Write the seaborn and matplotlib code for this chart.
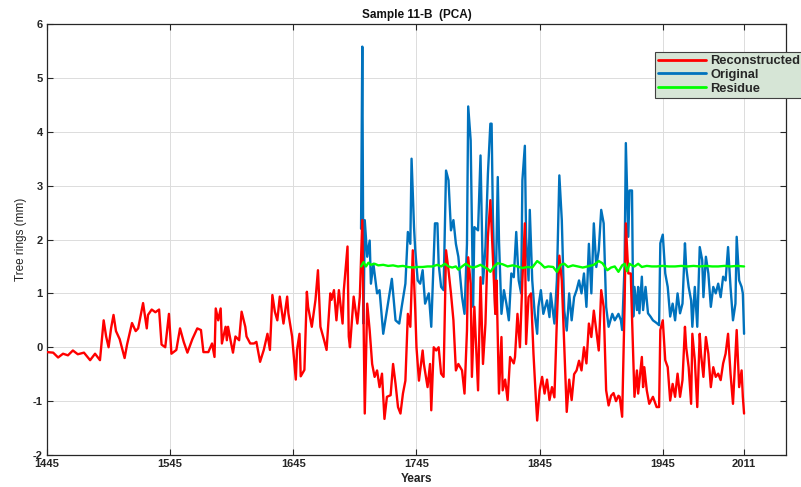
import matplotlib
matplotlib.use("Agg")
import matplotlib.pyplot as plt
import seaborn as sns
import pandas as pd

# ---------------- data ----------------
red_years = [1445, 1450, 1454, 1458, 1462, 1466, 1470, 1475, 1480, 1484, 1488, 1491, 1493, 1495, 1497,
             1499, 1501, 1504, 1508, 1510, 1514, 1517, 1519, 1523, 1526, 1527, 1530, 1533, 1536, 1538,
             1541, 1544, 1546, 1550, 1553, 1556, 1559, 1563, 1567, 1570, 1572, 1576, 1579, 1581, 1582,
             1584, 1586, 1587, 1590, 1591, 1592, 1594, 1596, 1598, 1601, 1603, 1606, 1607, 1610, 1613,
             1615, 1618, 1621, 1624, 1626, 1628, 1630, 1632, 1634, 1637, 1640, 1641, 1644, 1647, 1648,
             1650, 1651, 1654, 1656, 1657, 1660, 1663, 1665, 1667, 1670, 1672, 1675, 1676, 1678, 1680,
             1682, 1685, 1686, 1689, 1690, 1691, 1694, 1697, 1699, 1701, 1703, 1705, 1707, 1709, 1711,
             1713, 1715, 1717, 1719, 1721, 1724, 1726, 1728, 1730, 1732, 1734, 1736, 1738, 1740, 1742,
             1744, 1745, 1747, 1750, 1751, 1754, 1756, 1757, 1759, 1761, 1763, 1765, 1767, 1769, 1771,
             1773, 1775, 1777, 1779, 1782, 1784, 1786, 1787, 1789, 1790, 1792, 1795, 1797, 1799, 1801,
             1803, 1805, 1807, 1809, 1810, 1812, 1814, 1815, 1817, 1819, 1821, 1824, 1825, 1827, 1829,
             1831, 1833, 1834, 1836, 1838, 1840, 1842, 1843, 1845, 1847, 1849, 1851, 1853, 1855, 1857,
             1859, 1861, 1863, 1865, 1867, 1869, 1871, 1873, 1875, 1877, 1879, 1881, 1883, 1885, 1887,
             1889, 1891, 1893, 1895, 1897, 1899, 1901, 1903, 1905, 1907, 1909, 1910, 1912, 1914, 1915,
             1917, 1919, 1920, 1922, 1924, 1925, 1928, 1929, 1930, 1932, 1934, 1937, 1940, 1942, 1943,
             1945, 1947, 1949, 1951, 1953, 1955, 1957, 1959, 1961, 1963, 1964, 1966, 1968, 1969, 1971,
             1973, 1975, 1976, 1978, 1980, 1982, 1984, 1986, 1988, 1990, 1992, 1994, 1996, 1998, 2000,
             2002, 2004, 2005, 2007, 2009, 2010, 2011]
red_vals = [-0.09, -0.10, -0.19, -0.12, -0.15, -0.06, -0.13, -0.10, -0.24, -0.12, -0.24, 0.50, 0.20, 0.00, 0.35,
            0.60, 0.30, 0.15, -0.20, 0.05, 0.45, 0.30, 0.35, 0.82, 0.35, 0.60, 0.70, 0.65, 0.70, 0.05,
            0.00, 0.62, -0.12, -0.05, 0.35, 0.10, -0.10, 0.15, 0.35, 0.32, -0.09, -0.09, 0.07, -0.18, 0.72,
            0.50, 0.72, 0.07, 0.38, 0.13, 0.38, 0.13, -0.10, 0.20, 0.13, 0.66, 0.38, 0.20, 0.07, 0.07,
            0.10, -0.27, -0.05, 0.25, -0.05, 0.97, 0.66, 0.50, 0.94, 0.44, 0.94, 0.63, 0.20, -0.60, -0.05,
            0.25, -0.54, -0.42, 1.03, 0.75, 0.38, 0.88, 1.43, 0.38, 0.13, -0.05, 1.00, 0.88, 1.06, 0.50,
            1.06, 0.44, 1.06, 1.87, 0.20, 0.00, 0.94, 0.44, 0.94, 2.36, -1.23, 0.81, 0.31, -0.31, -0.55,
            -0.43, -0.74, -0.49, -1.33, -0.92, -0.89, -0.31, -0.68, -1.11, -1.23, -0.86, -0.62, 0.62, 0.38, 1.80,
            0.69, 0.00, -0.62, -0.06, -0.31, -0.74, -0.31, -1.17, 0.00, -0.06, 0.00, -0.49, -0.55, 1.80, 1.43,
            1.00, 0.50, -0.43, -0.31, -0.43, -0.86, 0.31, 1.67, 1.18, -0.55, 0.75, -0.80, 1.30, -0.31, 0.44,
            2.05, 2.73, 1.70, 0.62, 1.24, -0.86, 0.19, -0.80, -0.60, -0.98, -0.18, -0.30, -0.18, 0.62, 0.00,
            1.24, 2.30, 0.06, 0.93, 1.00, -0.12, -0.98, -1.36, -0.80, -0.55, -0.86, -0.60, -0.98, -0.74, -0.93,
            0.50, 1.70, 1.24, 0.00, -1.20, -0.60, -0.98, -0.50, -0.43, -0.25, -0.43, 0.00, -0.30, 0.44, 0.19,
            0.68, 0.31, -0.06, 1.06, 0.75, -0.80, -1.08, -0.90, -0.85, -1.00, -0.90, -0.92, -1.29, 0.81, 2.30,
            1.37, 1.37, 0.57, -0.92, -0.43, -0.86, -0.18, -0.74, -0.37, -0.80, -1.05, -0.92, -1.11, -1.11, 0.32,
            0.50, -0.24, -0.37, -0.99, -0.68, -0.92, -0.49, -0.92, -0.61, 0.38, 0.00, -0.37, -1.05, 0.25, -0.24,
            -1.11, 0.25, -0.12, -0.55, 0.19, -0.12, -0.74, -0.37, -0.55, -0.49, -0.61, -0.30, -0.12, 0.25, -0.49,
            -1.05, -0.12, 0.32, -0.74, -0.43, -0.92, -1.23]

blue_years = [1700, 1701, 1702, 1703, 1705, 1707, 1708, 1710, 1713, 1715, 1718, 1721, 1725, 1728, 1731,
              1733, 1736, 1738, 1740, 1741, 1743, 1744, 1746, 1748, 1750, 1752, 1755, 1757, 1760, 1762,
              1763, 1765, 1767, 1769, 1771, 1773, 1775, 1777, 1779, 1782, 1784, 1786, 1787, 1789, 1791,
              1792, 1795, 1797, 1799, 1801, 1803, 1805, 1806, 1807, 1809, 1811, 1812, 1814, 1816, 1818,
              1820, 1822, 1824, 1826, 1828, 1830, 1831, 1833, 1834, 1836, 1837, 1839, 1841, 1843, 1844,
              1846, 1848, 1851, 1853, 1854, 1857, 1859, 1861, 1863, 1865, 1867, 1869, 1871, 1873, 1875,
              1877, 1879, 1881, 1883, 1885, 1887, 1889, 1891, 1893, 1895, 1897, 1899, 1901, 1904, 1906,
              1909, 1911, 1912, 1914, 1915, 1917, 1918, 1920, 1921, 1922, 1924, 1925, 1926, 1928, 1929,
              1931, 1933, 1935, 1937, 1940, 1942, 1943, 1945, 1947, 1949, 1951, 1953, 1955, 1957, 1959,
              1961, 1963, 1964, 1966, 1968, 1969, 1971, 1973, 1975, 1977, 1978, 1980, 1982, 1984, 1986,
              1988, 1990, 1992, 1994, 1996, 1998, 2000, 2002, 2004, 2005, 2007, 2009, 2010, 2011]
blue_vals = [2.20, 5.58, 0.44, 2.36, 1.68, 1.98, 1.18, 1.55, 1.00, 1.06, 0.25, 0.69, 1.27, 0.50, 0.44,
             0.75, 1.18, 2.14, 1.92, 3.50, 2.23, 1.80, 1.24, 1.18, 1.43, 0.81, 1.00, 0.38, 2.30, 2.30,
             1.55, 1.12, 1.06, 3.28, 3.10, 2.17, 2.36, 1.92, 1.68, 0.93, 0.62, 1.92, 4.47, 3.84, 0.75,
             2.23, 2.17, 3.56, 1.18, 1.86, 3.22, 4.15, 4.15, 2.48, 0.62, 3.16, 1.98, 0.62, 1.06, 0.81,
             0.50, 1.37, 1.30, 2.14, 1.24, 1.00, 3.10, 3.74, 2.05, 1.24, 2.55, 1.24, 0.62, 0.25, 0.75,
             1.06, 0.62, 0.87, 0.56, 1.00, 0.44, 1.24, 3.19, 2.36, 0.68, 0.31, 1.00, 0.50, 0.93, 1.06,
             1.24, 1.00, 1.37, 0.75, 1.92, 1.00, 2.30, 1.49, 1.80, 2.55, 2.30, 0.75, 0.38, 0.62, 0.50,
             0.62, 0.50, 0.32, 1.55, 3.79, 2.05, 2.91, 2.91, 0.57, 1.12, 0.69, 1.12, 0.63, 1.31, 0.69,
             1.12, 0.63, 0.57, 0.50, 0.45, 0.41, 1.93, 2.09, 1.37, 1.12, 0.57, 0.81, 0.50, 1.00, 0.63,
             0.81, 1.93, 1.49, 1.12, 0.87, 0.38, 1.12, 0.38, 1.86, 1.62, 0.93, 1.68, 1.37, 0.75, 1.12,
             1.00, 1.18, 0.93, 1.31, 1.24, 1.86, 1.12, 0.50, 0.81, 2.05, 1.24, 1.12, 1.00, 0.25]

green_years = [1700, 1702, 1704, 1706, 1708, 1711, 1714, 1718, 1722, 1726, 1730, 1734, 1738, 1742, 1746,
               1750, 1754, 1758, 1762, 1765, 1768, 1771, 1774, 1777, 1779, 1782, 1785, 1788, 1791, 1794,
               1797, 1800, 1803, 1805, 1808, 1811, 1815, 1819, 1823, 1827, 1831, 1835, 1839, 1843, 1846,
               1849, 1852, 1856, 1859, 1862, 1865, 1868, 1872, 1876, 1880, 1884, 1889, 1893, 1896, 1900,
               1903, 1906, 1909, 1912, 1914, 1916, 1918, 1920, 1922, 1925, 1928, 1932, 1936, 1940, 1945,
               1950, 1955, 1960, 1965, 1970, 1975, 1980, 1985, 1990, 1995, 2000, 2005, 2011]
green_vals = [1.50, 1.58, 1.50, 1.57, 1.53, 1.55, 1.52, 1.53, 1.51, 1.52, 1.50, 1.51, 1.49, 1.48, 1.49,
              1.49, 1.50, 1.50, 1.53, 1.50, 1.55, 1.50, 1.48, 1.50, 1.44, 1.50, 1.55, 1.50, 1.48, 1.50,
              1.53, 1.49, 1.45, 1.40, 1.50, 1.56, 1.54, 1.50, 1.52, 1.50, 1.47, 1.49, 1.48, 1.60, 1.55,
              1.48, 1.50, 1.49, 1.40, 1.53, 1.55, 1.49, 1.52, 1.50, 1.48, 1.50, 1.53, 1.60, 1.56, 1.43,
              1.48, 1.50, 1.40, 1.52, 1.55, 1.41, 1.55, 1.52, 1.50, 1.55, 1.49, 1.51, 1.50, 1.50, 1.51,
              1.50, 1.50, 1.51, 1.50, 1.51, 1.50, 1.51, 1.50, 1.50, 1.51, 1.50, 1.51, 1.50]

x_ticks = [1445, 1545, 1645, 1745, 1845, 1945, 2011]
y_ticks = [-2, -1, 0, 1, 2, 3, 4, 5, 6]
series_names = ["Reconstructed", "Original", "Residue"]

# ---------------- drawing ----------------
sns.set_style("whitegrid")
plt.rcParams["font.family"] = ["Liberation Sans", "DejaVu Sans"]
plt.rcParams["axes.unicode_minus"] = False

fig = plt.figure(figsize=(8.01, 4.87), dpi=100)
ax = fig.add_axes([0.0587, 0.0657, 0.9225, 0.885])

df_r = pd.DataFrame({"Year": red_years, "Value": red_vals})
df_b = pd.DataFrame({"Year": blue_years, "Value": blue_vals})
df_g = pd.DataFrame({"Year": green_years, "Value": green_vals})

sns.lineplot(data=df_r, x="Year", y="Value", ax=ax, color="#FF0000", linewidth=1.7,
             estimator=None, sort=False, label=series_names[0], zorder=3)
sns.lineplot(data=df_b, x="Year", y="Value", ax=ax, color="#0072BD", linewidth=1.7,
             estimator=None, sort=False, label=series_names[1], zorder=2)
sns.lineplot(data=df_g, x="Year", y="Value", ax=ax, color="#00FF00", linewidth=1.7,
             estimator=None, sort=False, label=series_names[2], zorder=4)

ax.set_xlim(1445, 2045)
ax.set_ylim(-2, 6)
ax.set_xticks(x_ticks)
ax.set_yticks(y_ticks)
ax.grid(True, color="#dcdcdc", linewidth=0.7)
for s in ax.spines.values():
    s.set_color("#262626")
    s.set_linewidth(0.9)
ax.tick_params(direction="in", length=4, width=0.8, colors="#262626", labelsize=8,
               top=True, right=True, bottom=True, left=True, pad=3)
for lab in ax.get_xticklabels() + ax.get_yticklabels():
    lab.set_fontweight("bold")

ax.set_title("Sample 11-B  (PCA)", fontsize=8.5, fontweight="bold", color="#111111", pad=4)
ax.set_xlabel("Years", fontsize=8.5, fontweight="bold", color="#222222", labelpad=3)
ax.set_ylabel("Tree rings (mm)", fontsize=8.5, color="#222222", labelpad=4)

leg = ax.legend(loc="upper left", bbox_to_anchor=(0.818, 0.893), bbox_transform=fig.transFigure,
                fontsize=9.3, frameon=True, fancybox=False, borderpad=0.25, labelspacing=0.12,
                handlelength=3.7, handletextpad=0.3, borderaxespad=0)
leg.get_frame().set_facecolor("#D6E5D6")
leg.get_frame().set_edgecolor("#404040")
leg.get_frame().set_linewidth(0.8)
leg.get_frame().set_alpha(1)
for t in leg.get_texts():
    t.set_fontweight("bold")
for h in leg.get_lines():
    h.set_linewidth(2.0)

fig.savefig("out.png", dpi=100)
